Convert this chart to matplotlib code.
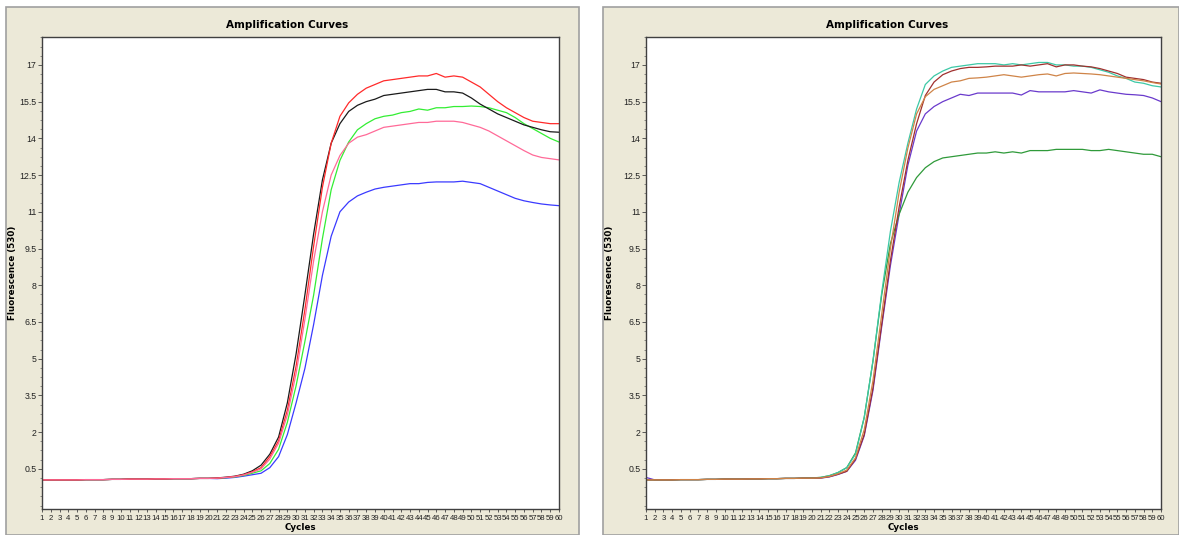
import matplotlib
matplotlib.use("Agg")
import matplotlib.pyplot as plt
from matplotlib.patches import Rectangle
from matplotlib.ticker import AutoMinorLocator

cycles = list(range(1, 61))
y_ticks = [0.5, 2, 3.5, 5, 6.5, 8, 9.5, 11, 12.5, 14, 15.5, 17]

# left run
black = [0.05, 0.05, 0.05, 0.05, 0.05, 0.06, 0.06, 0.06, 0.07, 0.07,
         0.08, 0.08, 0.08, 0.09, 0.09, 0.10, 0.10, 0.10, 0.11, 0.11,
         0.13, 0.16, 0.20, 0.28, 0.42, 0.65, 1.1, 1.8, 3.2, 5.2,
         7.6, 10.1, 12.3, 13.8, 14.6, 15.1, 15.35, 15.5, 15.6, 15.75,
         15.8, 15.85, 15.9, 15.95, 16.0, 16.0, 15.9, 15.9, 15.85, 15.65,
         15.4, 15.2, 15.0, 14.85, 14.7, 14.55, 14.45, 14.35, 14.27, 14.25]
red = [0.05, 0.05, 0.05, 0.05, 0.05, 0.06, 0.06, 0.06, 0.07, 0.07,
       0.08, 0.08, 0.08, 0.09, 0.09, 0.10, 0.10, 0.10, 0.11, 0.11,
       0.12, 0.15, 0.19, 0.26, 0.38, 0.55, 1.0, 1.65, 2.9, 4.7,
       7.0, 9.6, 12.0, 13.8, 14.9, 15.45, 15.8, 16.05, 16.2, 16.35,
       16.4, 16.45, 16.5, 16.55, 16.55, 16.65, 16.5, 16.55, 16.5, 16.3,
       16.1, 15.8, 15.5, 15.25, 15.05, 14.85, 14.7, 14.65, 14.6, 14.6]
pink = [0.05, 0.05, 0.05, 0.05, 0.05, 0.06, 0.06, 0.06, 0.07, 0.07,
        0.08, 0.08, 0.08, 0.09, 0.09, 0.10, 0.10, 0.10, 0.11, 0.11,
        0.12, 0.15, 0.18, 0.25, 0.36, 0.5, 0.9, 1.55, 2.7, 4.4,
        6.6, 9.0, 11.0, 12.5, 13.3, 13.8, 14.05, 14.15, 14.3, 14.45,
        14.5, 14.55, 14.6, 14.65, 14.65, 14.7, 14.7, 14.7, 14.65, 14.55,
        14.45, 14.3, 14.1, 13.9, 13.7, 13.5, 13.32, 13.22, 13.17, 13.12]
green = [0.05, 0.05, 0.05, 0.05, 0.05, 0.06, 0.06, 0.06, 0.07, 0.07,
         0.08, 0.08, 0.08, 0.09, 0.09, 0.10, 0.10, 0.10, 0.11, 0.11,
         0.11, 0.14, 0.17, 0.23, 0.32, 0.42, 0.72, 1.3, 2.4, 3.9,
         5.7, 7.6, 9.9, 11.9, 13.1, 13.85, 14.35, 14.6, 14.8, 14.9,
         14.95, 15.05, 15.1, 15.2, 15.15, 15.25, 15.25, 15.3, 15.3, 15.32,
         15.3, 15.25, 15.15, 15.05, 14.85, 14.6, 14.4, 14.2, 14.0, 13.85]
blue = [0.05, 0.05, 0.05, 0.05, 0.05, 0.06, 0.06, 0.06, 0.07, 0.07,
        0.08, 0.08, 0.08, 0.09, 0.09, 0.10, 0.10, 0.10, 0.11, 0.11,
        0.10, 0.12, 0.15, 0.20, 0.26, 0.32, 0.55, 1.0, 1.9, 3.2,
        4.6, 6.4, 8.4, 10.0, 11.0, 11.4, 11.65, 11.8, 11.93, 12.0,
        12.05, 12.1, 12.15, 12.15, 12.2, 12.22, 12.22, 12.22, 12.25, 12.2,
        12.15, 12.0, 11.85, 11.7, 11.55, 11.45, 11.38, 11.32, 11.28, 11.25]

# right run
teal = [0.05, 0.05, 0.05, 0.05, 0.06, 0.06, 0.06, 0.07, 0.07, 0.08,
        0.08, 0.08, 0.09, 0.09, 0.10, 0.10, 0.11, 0.11, 0.12, 0.13,
        0.15, 0.22, 0.35, 0.55, 1.1, 2.6, 4.9, 7.7, 10.2, 12.2,
        13.8, 15.2, 16.2, 16.55, 16.75, 16.9, 16.95, 17.0, 17.05, 17.05,
        17.05, 17.0, 17.05, 17.0, 17.05, 17.1, 17.1, 17.0, 17.0, 16.95,
        16.95, 16.9, 16.8, 16.7, 16.55, 16.45, 16.3, 16.25, 16.15, 16.1]
darkred = [0.05, 0.05, 0.05, 0.05, 0.06, 0.06, 0.06, 0.07, 0.07, 0.08,
           0.08, 0.08, 0.09, 0.09, 0.10, 0.10, 0.11, 0.11, 0.12, 0.12,
           0.13, 0.18, 0.28, 0.4, 0.9, 1.9, 3.8, 6.4, 9.0, 11.2,
           13.1, 14.6, 15.75, 16.3, 16.6, 16.75, 16.85, 16.9, 16.9, 16.92,
           16.95, 16.95, 16.95, 17.0, 16.95, 17.0, 17.05, 16.92, 17.0, 17.0,
           16.95, 16.92, 16.85, 16.75, 16.65, 16.5, 16.45, 16.4, 16.3, 16.25]
orange = [0.05, 0.05, 0.05, 0.05, 0.06, 0.06, 0.06, 0.07, 0.07, 0.08,
          0.08, 0.08, 0.09, 0.09, 0.10, 0.10, 0.11, 0.11, 0.12, 0.12,
          0.13, 0.19, 0.3, 0.45, 0.95, 2.1, 4.1, 6.8, 9.5, 11.8,
          13.6, 15.0, 15.7, 16.0, 16.15, 16.3, 16.35, 16.45, 16.47, 16.5,
          16.55, 16.6, 16.55, 16.5, 16.55, 16.6, 16.63, 16.55, 16.65, 16.67,
          16.65, 16.63, 16.6, 16.55, 16.5, 16.45, 16.4, 16.35, 16.28, 16.22]
purple = [0.15, 0.05, 0.05, 0.05, 0.06, 0.06, 0.06, 0.07, 0.07, 0.08,
          0.08, 0.08, 0.09, 0.09, 0.10, 0.10, 0.11, 0.11, 0.12, 0.12,
          0.12, 0.17, 0.27, 0.4, 0.85, 1.85, 3.7, 6.3, 8.8, 10.9,
          12.9, 14.3, 15.0, 15.3, 15.5, 15.65, 15.8, 15.75, 15.85, 15.85,
          15.85, 15.85, 15.85, 15.77, 15.95, 15.9, 15.9, 15.9, 15.9, 15.95,
          15.9, 15.85, 15.98, 15.9, 15.85, 15.8, 15.78, 15.75, 15.65, 15.5]
green2 = [0.05, 0.05, 0.05, 0.05, 0.06, 0.06, 0.06, 0.07, 0.07, 0.08,
          0.08, 0.08, 0.09, 0.09, 0.10, 0.10, 0.11, 0.11, 0.12, 0.13,
          0.15, 0.22, 0.35, 0.55, 1.15, 2.6, 4.9, 7.6, 9.7, 10.9,
          11.8, 12.4, 12.8, 13.05, 13.2, 13.25, 13.3, 13.35, 13.4, 13.4,
          13.45, 13.4, 13.45, 13.4, 13.5, 13.5, 13.5, 13.55, 13.55, 13.55,
          13.55, 13.5, 13.5, 13.55, 13.5, 13.45, 13.4, 13.35, 13.35, 13.25]

left_curves = [(blue, "#3a3aff"), (green, "#33ee33"), (black, "#1a1a1a"),
               (red, "#ff2a2a"), (pink, "#ff6a98")]
right_curves = [(purple, "#6a3acc"), (green2, "#2f9a3a"), (teal, "#3cc8a6"),
                (darkred, "#a0302e"), (orange, "#cf8448")]

W, H = 1179, 535
fig = plt.figure(figsize=(W / 100, H / 100), dpi=100, facecolor="white")

# beige panel frames
for x0, x1 in [(6, 579), (603, 1179)]:
    fig.add_artist(Rectangle((x0 / W, 0), (x1 - x0) / W, (H - 7) / H,
                             transform=fig.transFigure, facecolor="#ece9d8",
                             edgecolor="#a0a0a0", linewidth=1.2, zorder=0))


def draw(ax_px, curves, center_px, ylab_px):
    x0, x1 = ax_px
    ax = fig.add_axes([x0 / W, (H - 509) / H, (x1 - x0) / W, 472 / H])
    ax.set_facecolor("white")
    for vals, col in curves:
        ax.plot(cycles, vals, color=col, linewidth=0.9)
    ax.set_xlim(1, 60)
    ax.set_ylim(-1.14, 18.14)
    ax.set_xticks(cycles)
    ax.set_xticklabels([str(c) for c in cycles], fontsize=5.6,
                       family="Liberation Sans", color="#222222")
    ax.set_yticks(y_ticks)
    ax.set_yticklabels([f"{v:g}" for v in y_ticks], fontsize=6.3,
                       family="Liberation Sans", color="#222222")
    ax.yaxis.set_minor_locator(AutoMinorLocator(4))
    ax.tick_params(axis="x", length=2.5, width=0.6, pad=1.5, colors="#444444",
                   labelcolor="#222222")
    ax.tick_params(axis="y", which="major", length=3, width=0.6, pad=1,
                   colors="#444444", labelcolor="#222222")
    ax.tick_params(axis="y", which="minor", length=1.5, width=0.5,
                   colors="#666666")
    for s in ax.spines.values():
        s.set_color("#404040")
        s.set_linewidth(1.0)
    ax.set_xlabel("Cycles", fontsize=6.3, fontweight="bold", labelpad=1)
    ax.set_ylabel("Fluorescence (530)", fontsize=6.3, fontweight="bold")
    ax.yaxis.set_label_coords((ylab_px - x0) / (x1 - x0), 0.5)
    fig.text(center_px / W, 1 - 25 / H, "Amplification Curves",
             ha="center", va="center", fontsize=7.5, fontweight="bold")
    return ax


draw((42, 559), left_curves, 287, 17)
draw((646, 1161), right_curves, 887, 614)

fig.savefig("out.png", dpi=100, facecolor="white")
